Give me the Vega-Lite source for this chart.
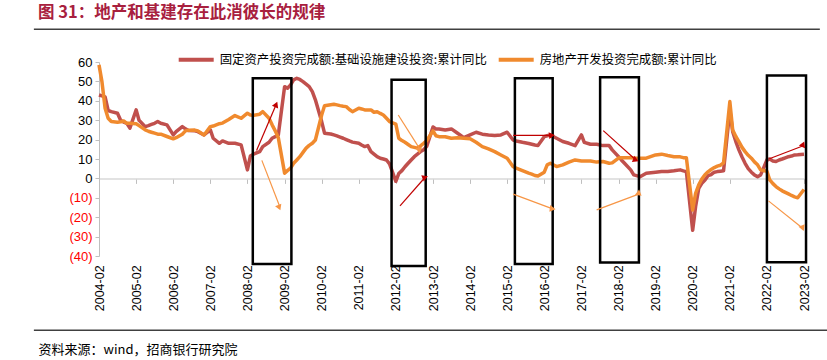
{
  "$schema": "https://vega.github.io/schema/vega-lite/v6.json",
  "width": 705,
  "height": 194,
  "autosize": "none",
  "padding": {"left": 99, "top": 62, "right": 23, "bottom": 104},
  "background": "white",
  "title": {
    "text": "图 31：地产和基建存在此消彼长的规律",
    "anchor": "start",
    "frame": "group",
    "dx": -61,
    "offset": 7,
    "font": "Noto Sans CJK SC",
    "fontSize": 16.5,
    "fontWeight": "bold",
    "color": "#A8203E"
  },
  "datasets": {
    "series": [
      {"d": "2004/02/01", "infra": 43, "re": 58.5},
      {"d": "2004/03/01", "infra": 42.5, "re": 49.9},
      {"d": "2004/04/01", "infra": 42, "re": 36.2},
      {"d": "2004/05/01", "infra": 35, "re": 31},
      {"d": "2004/06/01", "infra": 34.4, "re": 29.3},
      {"d": "2004/08/01", "infra": 33.6, "re": 29},
      {"d": "2004/09/01", "infra": 30, "re": 29.2},
      {"d": "2004/10/01", "infra": 29, "re": 29.6},
      {"d": "2004/11/01", "infra": 28.4, "re": 28.4},
      {"d": "2004/12/01", "infra": 25.9, "re": 28.4},
      {"d": "2005/02/01", "infra": 35.3, "re": 28.2},
      {"d": "2005/03/01", "infra": 30, "re": 27.2},
      {"d": "2005/05/01", "infra": 26.7, "re": 25},
      {"d": "2005/06/01", "infra": 27.2, "re": 24.3},
      {"d": "2005/07/01", "infra": 27.8, "re": 23.8},
      {"d": "2005/08/01", "infra": 28.4, "re": 23.3},
      {"d": "2005/09/01", "infra": 29.3, "re": 22.8},
      {"d": "2005/10/01", "infra": 28.4, "re": 22.8},
      {"d": "2005/12/01", "infra": 27.6, "re": 21.6},
      {"d": "2006/02/01", "infra": 22.4, "re": 20.4},
      {"d": "2006/03/01", "infra": 24.1, "re": 21},
      {"d": "2006/05/01", "infra": 26.7, "re": 22.8},
      {"d": "2006/06/01", "infra": 25.5, "re": 24.5},
      {"d": "2006/07/01", "infra": 24.7, "re": 24.8},
      {"d": "2006/09/01", "infra": 24.5, "re": 24.9},
      {"d": "2006/10/01", "infra": 24.1, "re": 24.5},
      {"d": "2006/12/01", "infra": 22.4, "re": 22.4},
      {"d": "2007/02/01", "infra": 25, "re": 26.7},
      {"d": "2007/03/01", "infra": 20.7, "re": 27},
      {"d": "2007/05/01", "infra": 18.1, "re": 28.2},
      {"d": "2007/06/01", "infra": 19.3, "re": 28.5},
      {"d": "2007/08/01", "infra": 18.1, "re": 30.4},
      {"d": "2007/10/01", "infra": 18.1, "re": 32.4},
      {"d": "2007/12/01", "infra": 17.3, "re": 31},
      {"d": "2008/02/01", "infra": 4.4, "re": 33.6},
      {"d": "2008/03/01", "infra": 11.5, "re": 32.7},
      {"d": "2008/04/01", "infra": 12.5, "re": 32.5},
      {"d": "2008/06/01", "infra": 13.8, "re": 33.1},
      {"d": "2008/07/01", "infra": 16.4, "re": 34.4},
      {"d": "2008/09/01", "infra": 18.6, "re": 31},
      {"d": "2008/10/01", "infra": 20.7, "re": 27.6},
      {"d": "2008/11/01", "infra": 21.5, "re": 24.5},
      {"d": "2008/12/01", "infra": 22.4, "re": 21},
      {"d": "2009/02/01", "infra": 47.3, "re": 2.7},
      {"d": "2009/03/01", "infra": 46.5, "re": 4},
      {"d": "2009/04/01", "infra": 48.2, "re": 5.3},
      {"d": "2009/05/01", "infra": 50.8, "re": 7.8},
      {"d": "2009/06/01", "infra": 51.6, "re": 9.5},
      {"d": "2009/07/01", "infra": 51, "re": 11.2},
      {"d": "2009/08/01", "infra": 49.9, "re": 13.4},
      {"d": "2009/09/01", "infra": 48.6, "re": 15.6},
      {"d": "2009/10/01", "infra": 47.3, "re": 17},
      {"d": "2009/11/01", "infra": 44.7, "re": 18.1},
      {"d": "2009/12/01", "infra": 40.5, "re": 19.8},
      {"d": "2010/02/01", "infra": 29.3, "re": 32.7},
      {"d": "2010/03/01", "infra": 23.3, "re": 37.5},
      {"d": "2010/05/01", "infra": 22.9, "re": 38},
      {"d": "2010/06/01", "infra": 22.4, "re": 38.2},
      {"d": "2010/07/01", "infra": 21.9, "re": 37.9},
      {"d": "2010/08/01", "infra": 21.3, "re": 37.5},
      {"d": "2010/09/01", "infra": 20.7, "re": 37.2},
      {"d": "2010/10/01", "infra": 20, "re": 37},
      {"d": "2010/11/01", "infra": 19.3, "re": 35.5},
      {"d": "2010/12/01", "infra": 18.7, "re": 34.4},
      {"d": "2011/02/01", "infra": 18.1, "re": 36.2},
      {"d": "2011/03/01", "infra": 17.2, "re": 35.8},
      {"d": "2011/04/01", "infra": 16.4, "re": 35.3},
      {"d": "2011/05/01", "infra": 16.9, "re": 35.3},
      {"d": "2011/06/01", "infra": 13.8, "re": 35.3},
      {"d": "2011/07/01", "infra": 12.5, "re": 34.1},
      {"d": "2011/08/01", "infra": 11.2, "re": 34.4},
      {"d": "2011/09/01", "infra": 10.4, "re": 33.5},
      {"d": "2011/10/01", "infra": 10, "re": 32.7},
      {"d": "2011/11/01", "infra": 9.5, "re": 31},
      {"d": "2011/12/01", "infra": 7.5, "re": 29.3},
      {"d": "2012/02/01", "infra": -1.5, "re": 28},
      {"d": "2012/03/01", "infra": 2.5, "re": 20.7},
      {"d": "2012/04/01", "infra": 4, "re": 19.5},
      {"d": "2012/05/01", "infra": 6, "re": 18.6},
      {"d": "2012/06/01", "infra": 7.8, "re": 17.5},
      {"d": "2012/07/01", "infra": 9.5, "re": 16.4},
      {"d": "2012/08/01", "infra": 11.2, "re": 16},
      {"d": "2012/09/01", "infra": 12.5, "re": 15.6},
      {"d": "2012/10/01", "infra": 13.8, "re": 16.8},
      {"d": "2012/11/01", "infra": 14.8, "re": 18.1},
      {"d": "2012/12/01", "infra": 16.5, "re": 19.5},
      {"d": "2013/02/01", "infra": 26.5, "re": 24.5},
      {"d": "2013/03/01", "infra": 25.5, "re": 22},
      {"d": "2013/04/01", "infra": 25.5, "re": 21.5},
      {"d": "2013/06/01", "infra": 25, "re": 21.5},
      {"d": "2013/08/01", "infra": 25.5, "re": 20.7},
      {"d": "2013/10/01", "infra": 23.3, "re": 21},
      {"d": "2013/12/01", "infra": 21, "re": 20.7},
      {"d": "2014/02/01", "infra": 22.4, "re": 20.4},
      {"d": "2014/04/01", "infra": 23.8, "re": 18.6},
      {"d": "2014/06/01", "infra": 22.8, "re": 16.4},
      {"d": "2014/08/01", "infra": 22.4, "re": 15.2},
      {"d": "2014/10/01", "infra": 22.1, "re": 13.8},
      {"d": "2014/12/01", "infra": 22.4, "re": 12.1},
      {"d": "2015/02/01", "infra": 23.8, "re": 10.4},
      {"d": "2015/04/01", "infra": 19.8, "re": 6},
      {"d": "2015/05/01", "infra": 19.3, "re": 5.3},
      {"d": "2015/07/01", "infra": 18.6, "re": 4},
      {"d": "2015/09/01", "infra": 18, "re": 2.7},
      {"d": "2015/10/01", "infra": 17.6, "re": 2.2},
      {"d": "2015/11/01", "infra": 17.2, "re": 1.5},
      {"d": "2015/12/01", "infra": 16.9, "re": 1.2},
      {"d": "2016/02/01", "infra": 21.5, "re": 3.2},
      {"d": "2016/03/01", "infra": 22, "re": 7},
      {"d": "2016/04/01", "infra": 22.4, "re": 7.8},
      {"d": "2016/06/01", "infra": 20.7, "re": 6.1},
      {"d": "2016/08/01", "infra": 19, "re": 7},
      {"d": "2016/10/01", "infra": 18.1, "re": 8.4},
      {"d": "2016/12/01", "infra": 16.9, "re": 9.5},
      {"d": "2017/02/01", "infra": 22.4, "re": 9},
      {"d": "2017/03/01", "infra": 18.6, "re": 9},
      {"d": "2017/05/01", "infra": 17.6, "re": 9},
      {"d": "2017/07/01", "infra": 17.6, "re": 8.4},
      {"d": "2017/09/01", "infra": 16.9, "re": 8.7},
      {"d": "2017/11/01", "infra": 16.9, "re": 7.8},
      {"d": "2017/12/01", "infra": 14.7, "re": 8},
      {"d": "2018/02/01", "infra": 11.2, "re": 10.5},
      {"d": "2018/03/01", "infra": 9.5, "re": 10.7},
      {"d": "2018/04/01", "infra": 7.8, "re": 10.7},
      {"d": "2018/06/01", "infra": 4.4, "re": 10.7},
      {"d": "2018/07/01", "infra": 1.8, "re": 10.5},
      {"d": "2018/09/01", "infra": 0.9, "re": 10.4},
      {"d": "2018/11/01", "infra": 2.7, "re": 10.4},
      {"d": "2019/02/01", "infra": 3.2, "re": 12.1},
      {"d": "2019/04/01", "infra": 3.5, "re": 12.5},
      {"d": "2019/06/01", "infra": 3.5, "re": 11.8},
      {"d": "2019/08/01", "infra": 3.9, "re": 11.2},
      {"d": "2019/10/01", "infra": 4.4, "re": 11.1},
      {"d": "2019/11/01", "infra": 3.9, "re": 10.7},
      {"d": "2019/12/01", "infra": 3.5, "re": 10.7},
      {"d": "2020/02/01", "infra": -26.7, "re": -16.3},
      {"d": "2020/03/01", "infra": -14.5, "re": -7.7},
      {"d": "2020/04/01", "infra": -5.1, "re": -3.3},
      {"d": "2020/05/01", "infra": -2.5, "re": -0.3},
      {"d": "2020/06/01", "infra": -0.8, "re": 1.9},
      {"d": "2020/07/01", "infra": 1.4, "re": 3.4},
      {"d": "2020/08/01", "infra": 2, "re": 4.6},
      {"d": "2020/09/01", "infra": 3.2, "re": 5.6},
      {"d": "2020/10/01", "infra": 3.5, "re": 6.3},
      {"d": "2020/11/01", "infra": 3.7, "re": 6.8},
      {"d": "2020/12/01", "infra": 3.9, "re": 8},
      {"d": "2021/02/01", "infra": 35.3, "re": 39.6},
      {"d": "2021/03/01", "infra": 24.1, "re": 25},
      {"d": "2021/04/01", "infra": 19, "re": 21.6},
      {"d": "2021/05/01", "infra": 14.7, "re": 19},
      {"d": "2021/06/01", "infra": 11, "re": 16},
      {"d": "2021/07/01", "infra": 7.8, "re": 13.8},
      {"d": "2021/08/01", "infra": 5, "re": 11.9},
      {"d": "2021/09/01", "infra": 3.2, "re": 10.4},
      {"d": "2021/10/01", "infra": 1.8, "re": 8.5},
      {"d": "2021/11/01", "infra": 0.9, "re": 7},
      {"d": "2021/12/01", "infra": 1.8, "re": 4.4},
      {"d": "2022/02/01", "infra": 9.5, "re": 3.7},
      {"d": "2022/03/01", "infra": 10, "re": -0.8},
      {"d": "2022/04/01", "infra": 9, "re": -2.7},
      {"d": "2022/05/01", "infra": 8.7, "re": -4.2},
      {"d": "2022/06/01", "infra": 9.5, "re": -5.4},
      {"d": "2022/07/01", "infra": 10, "re": -6.4},
      {"d": "2022/08/01", "infra": 10.6, "re": -7.2},
      {"d": "2022/09/01", "infra": 11.2, "re": -8},
      {"d": "2022/10/01", "infra": 11.5, "re": -8.8},
      {"d": "2022/11/01", "infra": 12.1, "re": -9.5},
      {"d": "2022/12/01", "infra": 12.2, "re": -10},
      {"d": "2023/02/01", "infra": 12.5, "re": -5.7}
    ],
    "boxes": [
      {"x0": "2008/03/25", "x1": "2009/04/09", "top": 51.6, "bottom": -44.1},
      {"x0": "2011/12/21", "x1": "2012/11/21", "top": 50.8, "bottom": -45.1},
      {"x0": "2015/04/18", "x1": "2016/04/24", "top": 51.6, "bottom": -44.1},
      {"x0": "2017/08/04", "x1": "2018/08/21", "top": 52.2, "bottom": -43.4},
      {"x0": "2022/02/01", "x1": "2023/02/21", "top": 53, "bottom": -43.2}
    ],
    "arrows": [
      {"id": "a1", "s": "infra", "x0": "2008/05/01", "y0": 14.4, "x1": "2008/11/10", "y1": 38.1},
      {"id": "a2", "s": "re", "x0": "2008/06/22", "y0": 9.3, "x1": "2008/12/13", "y1": -14.2},
      {"id": "a3", "s": "re", "x0": "2012/02/25", "y0": 32.7, "x1": "2012/09/25", "y1": 15.1},
      {"id": "a4", "s": "infra", "x0": "2012/03/13", "y0": -14.2, "x1": "2012/11/16", "y1": 0.6},
      {"id": "a5", "s": "infra", "x0": "2015/04/01", "y0": 22.2, "x1": "2016/04/16", "y1": 22.2},
      {"id": "a6", "s": "re", "x0": "2015/04/01", "y0": -8.1, "x1": "2016/04/24", "y1": -15.7},
      {"id": "a7", "s": "infra", "x0": "2017/09/04", "y0": 24.6, "x1": "2018/07/22", "y1": 9.5},
      {"id": "a8", "s": "re", "x0": "2017/07/01", "y0": -16.2, "x1": "2018/08/25", "y1": -8.0},
      {"id": "a9", "s": "infra", "x0": "2022/02/25", "y0": 10.1, "x1": "2023/01/25", "y1": 16.8},
      {"id": "a10", "s": "re", "x0": "2022/02/16", "y0": -11.6, "x1": "2023/01/19", "y1": -25.7}
    ]
  },
  "layer": [
    {
      "data": {"name": "series"},
      "transform": [{"fold": ["infra", "re"], "as": ["k", "v"]}],
      "mark": {"type": "line", "strokeWidth": 3.5, "strokeJoin": "round"},
      "encoding": {
        "x": {
          "field": "d",
          "type": "temporal",
          "scale": {"domain": [{"year": 2004, "month": 2, "date": 1}, {"year": 2023, "month": 2, "date": 1}]},
          "axis": {
            "orient": "bottom",
            "offset": -77.6,
            "tickCount": 40,
            "values": [
              {"year": 2004, "month": 2, "date": 1}, {"year": 2005, "month": 2, "date": 1},
              {"year": 2006, "month": 2, "date": 1}, {"year": 2007, "month": 2, "date": 1},
              {"year": 2008, "month": 2, "date": 1}, {"year": 2009, "month": 2, "date": 1},
              {"year": 2010, "month": 2, "date": 1}, {"year": 2011, "month": 2, "date": 1},
              {"year": 2012, "month": 2, "date": 1}, {"year": 2013, "month": 2, "date": 1},
              {"year": 2014, "month": 2, "date": 1}, {"year": 2015, "month": 2, "date": 1},
              {"year": 2016, "month": 2, "date": 1}, {"year": 2017, "month": 2, "date": 1},
              {"year": 2018, "month": 2, "date": 1}, {"year": 2019, "month": 2, "date": 1},
              {"year": 2020, "month": 2, "date": 1}, {"year": 2021, "month": 2, "date": 1},
              {"year": 2022, "month": 2, "date": 1}, {"year": 2023, "month": 2, "date": 1}
            ],
            "format": "%Y-%m",
            "labelAngle": -90,
            "labelPadding": 81.5,
            "labelOverlap": false,
            "labelFlush": false,
            "labelFont": "Liberation Sans",
            "labelFontSize": 12.5,
            "labelColor": "#000000",
            "tickSize": 5,
            "tickColor": "#bfbfbf",
            "domainColor": "#d9d9d9",
            "domainWidth": 1.5,
            "grid": false,
            "title": "资料来源：wind，招商银行研究院",
            "titleX": -61,
            "titleY": 171,
            "titleAlign": "left",
            "titleAnchor": "start",
            "titleBaseline": "middle",
            "titleAngle": 0,
            "titleFont": "Noto Sans CJK SC",
            "titleFontSize": 13,
            "titleFontWeight": "normal",
            "titleColor": "#000000"
          }
        },
        "y": {
          "field": "v",
          "type": "quantitative",
          "scale": {"domain": [-40, 60], "nice": false, "zero": false},
          "axis": {
            "values": [-40, -30, -20, -10, 0, 10, 20, 30, 40, 50, 60],
            "tickCount": 20,
            "labelOverlap": false,
            "labelExpr": "datum.value < 0 ? '(' + abs(datum.value) + ')' : datum.value",
            "labelColor": {"condition": {"test": "datum.value < 0", "value": "#FF0000"}, "value": "#000000"},
            "labelFont": "Liberation Sans",
            "labelFontSize": 13,
            "labelPadding": 3,
            "tickSize": 4,
            "tickColor": "#bfbfbf",
            "domainColor": "#bfbfbf",
            "grid": false,
            "title": null
          }
        },
        "color": {
          "field": "k",
          "type": "nominal",
          "scale": {"domain": ["infra", "re"], "range": ["#C0504D", "#F08A2E"]},
          "legend": {
            "orient": "none",
            "legendX": 77.7,
            "legendY": -22,
            "direction": "horizontal",
            "title": null,
            "symbolType": "stroke",
            "symbolSize": 1225,
            "symbolStrokeWidth": 4,
            "labelFont": "Noto Sans CJK SC",
            "labelFontSize": 12.4,
            "labelColor": "#000000",
            "labelLimit": 0,
            "labelOffset": 4,
            "columnPadding": 3,
            "padding": 0,
            "labelExpr": "datum.label == 'infra' ? '固定资产投资完成额:基础设施建设投资:累计同比' : '房地产开发投资完成额:累计同比'"
          }
        }
      }
    },
    {
      "data": {"name": "boxes"},
      "mark": {"type": "rect", "fillOpacity": 0, "stroke": "#000000", "strokeWidth": 2.5},
      "encoding": {
        "x": {"field": "x0", "type": "temporal"},
        "x2": {"field": "x1"},
        "y": {"field": "top", "type": "quantitative"},
        "y2": {"field": "bottom"}
      }
    },
    {
      "data": {"name": "arrows"},
      "mark": {"type": "rule", "strokeWidth": 1.2},
      "encoding": {
        "x": {"field": "x0", "type": "temporal"},
        "x2": {"field": "x1"},
        "y": {"field": "y0", "type": "quantitative"},
        "y2": {"field": "y1"},
        "color": {"condition": {"test": "datum.s == 'infra'", "value": "#C00000"}, "value": "#F79646"}
      }
    },
    {
      "data": {"name": "arrows"},
      "mark": {"type": "point", "shape": "triangle-up", "filled": true, "size": 45, "opacity": 1},
      "encoding": {
        "x": {"field": "x1", "type": "temporal"},
        "y": {"field": "y1", "type": "quantitative"},
        "color": {"condition": {"test": "datum.s == 'infra'", "value": "#C00000"}, "value": "#F79646"},
        "angle": {
          "field": "id",
          "type": "nominal",
          "scale": {
            "domain": ["a1", "a2", "a3", "a4", "a5", "a6", "a7", "a8", "a9", "a10"],
            "range": [22.8, 159, 147.7, 41, 90, 110.5, 131.9, 69.4, 69.1, 128.4]
          },
          "legend": null
        }
      }
    },
    {
      "data": {"values": [{}]},
      "mark": {"type": "rule", "color": "#404040", "strokeWidth": 1.5},
      "encoding": {
        "x": {"datum": {"year": 2002, "month": 5, "date": 1}, "type": "temporal"},
        "x2": {"datum": {"year": 2023, "month": 7, "date": 7}},
        "y": {"datum": 76.9, "type": "quantitative"}
      }
    },
    {
      "data": {"values": [{}]},
      "mark": {"type": "rule", "color": "#404040", "strokeWidth": 1.5},
      "encoding": {
        "x": {"datum": {"year": 2002, "month": 5, "date": 1}, "type": "temporal"},
        "x2": {"datum": {"year": 2023, "month": 9, "date": 16}},
        "y": {"datum": -78.3, "type": "quantitative"}
      }
    }
  ],
  "config": {
    "view": {"stroke": null},
    "font": "Liberation Sans"
  }
}
